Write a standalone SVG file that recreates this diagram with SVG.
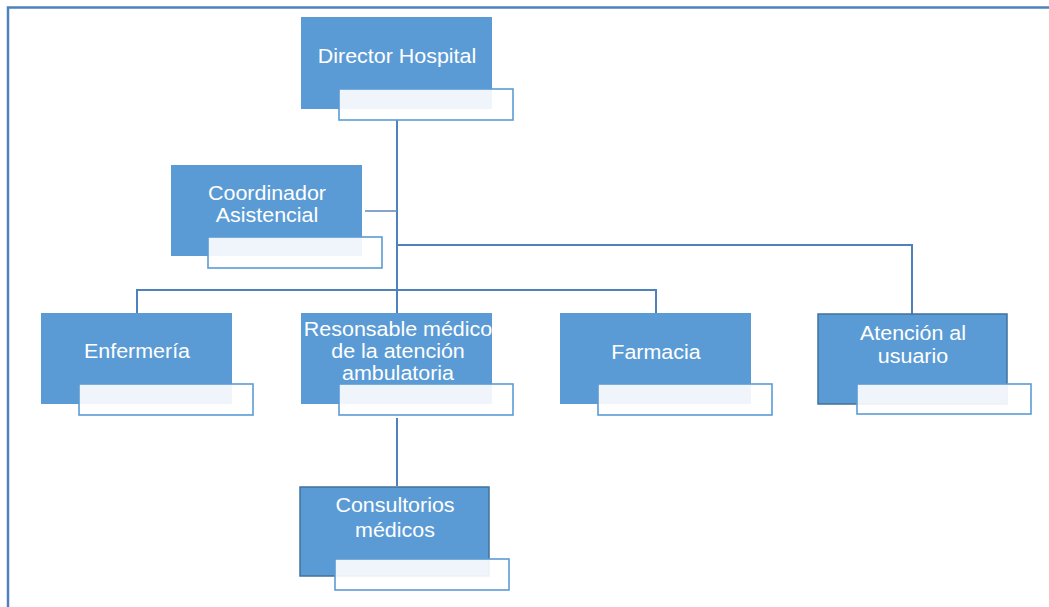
<svg xmlns="http://www.w3.org/2000/svg" width="1049" height="607" viewBox="0 0 1049 607">
  <style>
    .box { fill: #5b9bd5; }
    .box.edge { stroke: #41719c; stroke-width: 1.5; }
    .tag { fill: #ffffff; fill-opacity: 0.9; stroke: #5b9bd5; stroke-width: 1.6; }
    .lbl { font-family: "Liberation Sans", Arial, sans-serif; font-size: 19.5px; fill: #ffffff; text-anchor: middle; }
    .wire { fill: none; stroke: #4f81bd; stroke-width: 2; }
    .frame { fill: none; stroke: #4f81bd; stroke-width: 2.5; }
  </style>

  <!-- page frame -->
  <path class="frame" d="M8,607 V7.5 H1049"/>

  <!-- connectors -->
  <g id="connectors">
    <path class="wire" d="M397,120 V313"/>
    <path class="wire" d="M365,211 H397" style="stroke:#6a8fbf;stroke-width:1.6"/>
    <path class="wire" d="M397,245 H912 V314"/>
    <path class="wire" d="M137,313 V290 H656 V313"/>
    <path class="wire" d="M397,418 V486"/>
  </g>

  <!-- labels are drawn slightly wide: translate to the anchor, then stretch horizontally -->
  <g id="director">
    <rect class="box" x="301" y="17" width="191" height="92"/>
    <rect class="tag" x="339" y="89" width="174" height="31"/>
    <text class="lbl" transform="translate(397,63) scale(1.1,1)">Director Hospital</text>
  </g>

  <g id="coordinador">
    <rect class="box" x="171" y="165" width="191" height="91"/>
    <rect class="tag" x="208" y="237" width="174" height="31"/>
    <text class="lbl" transform="translate(267,200) scale(1.1,1)">Coordinador</text>
    <text class="lbl" transform="translate(267,222) scale(1.1,1)">Asistencial</text>
  </g>

  <g id="enfermeria">
    <rect class="box" x="41" y="313" width="191" height="91"/>
    <rect class="tag" x="79" y="384" width="174" height="31"/>
    <text class="lbl" transform="translate(137,358) scale(1.1,1)">Enfermería</text>
  </g>

  <g id="responsable">
    <rect class="box" x="301" y="313" width="191" height="91"/>
    <rect class="tag" x="339" y="384" width="174" height="31"/>
    <text class="lbl" transform="translate(398,336) scale(1.1,1)">Resonsable médico</text>
    <text class="lbl" transform="translate(398,358) scale(1.1,1)">de la atención</text>
    <text class="lbl" transform="translate(398,380) scale(1.1,1)">ambulatoria</text>
  </g>

  <g id="farmacia">
    <rect class="box" x="560" y="313" width="191" height="91"/>
    <rect class="tag" x="598" y="384" width="174" height="31"/>
    <text class="lbl" transform="translate(656,359) scale(1.1,1)">Farmacia</text>
  </g>

  <g id="atencion">
    <rect class="box edge" x="818" y="314" width="189" height="90"/>
    <rect class="tag" x="857" y="384" width="174" height="30"/>
    <text class="lbl" transform="translate(913,340) scale(1.1,1)">Atención al</text>
    <text class="lbl" transform="translate(913,363) scale(1.1,1)">usuario</text>
  </g>

  <g id="consultorios">
    <rect class="box edge" x="300" y="487" width="189" height="89"/>
    <rect class="tag" x="335" y="559" width="174" height="31"/>
    <text class="lbl" transform="translate(395,512) scale(1.1,1)">Consultorios</text>
    <text class="lbl" transform="translate(395,537) scale(1.1,1)">médicos</text>
  </g>
</svg>
